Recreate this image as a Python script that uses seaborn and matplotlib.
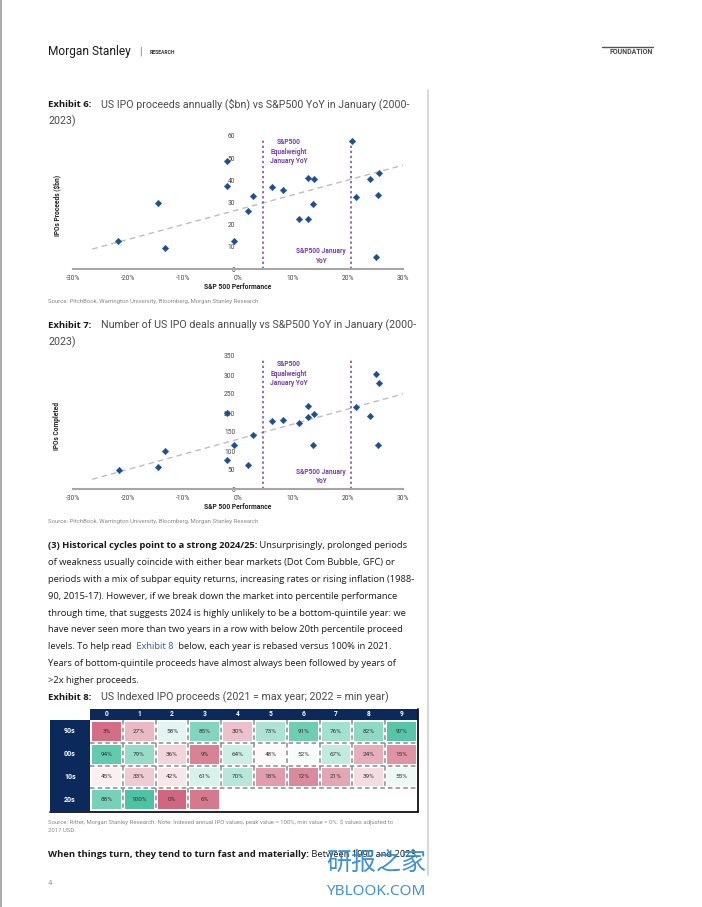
import numpy as np
import pandas as pd
import matplotlib

matplotlib.use("Agg")
import matplotlib.pyplot as plt
from matplotlib.colors import LinearSegmentedColormap
from matplotlib.patches import Rectangle
from matplotlib.lines import Line2D
import seaborn as sns

# ---- data ----
sp500_jan_ret_proceeds = [-21.8, -14.6, -13.2, -2.0, -2.0, -0.8, 1.9, 2.7, 6.1, 8.2, 11.0,
                          12.7, 12.8, 13.8, 13.6, 20.8, 21.4, 24.0, 25.6, 25.5, 25.0]
ipo_proceeds_bn = [12.6, 30.0, 9.6, 48.8, 37.4, 12.6, 26.0, 33.0, 37.0, 35.7, 22.7,
                   22.7, 41.1, 40.5, 29.4, 57.8, 32.4, 40.5, 43.5, 33.2, 5.5]

sp500_jan_ret_deals = [-21.7, -14.5, -13.2, -2.0, -2.0, -0.8, 1.9, 2.7, 6.1, 8.2, 11.0,
                       12.7, 12.8, 13.8, 13.6, 21.4, 24.0, 25.0, 25.6, 25.5]
ipos_completed = [51, 59, 99, 200, 76, 116, 63, 141, 179, 181, 175,
                  189, 218, 197, 115, 215, 191, 302, 280, 116]

trend_x = [-26.5, 30.7]
trend_proceeds = [9.0, 47.3]
trend_deals = [25.6, 253.0]

equalweight_jan_yoy = 4.5
sp500_jan_yoy = 20.6

decades = ["90s", "00s", "10s", "20s"]
year_digits = ["0", "1", "2", "3", "4", "5", "6", "7", "8", "9"]
indexed_proceeds = [
    [3, 27, 58, 85, 30, 73, 91, 76, 82, 97],
    [94, 79, 36, 9, 64, 48, 52, 67, 24, 15],
    [45, 33, 42, 61, 70, 18, 12, 21, 39, 55],
    [88, 100, 0, 6, np.nan, np.nan, np.nan, np.nan, np.nan, np.nan],
]

INK = "#1a1a1a"
LINK = "#2f5f9e"
paragraph = [
    [("(3) Historical cycles point to a strong 2024/25:", "bold", INK),
     (" Unsurprisingly, prolonged periods", "normal", INK)],
    [("of weakness usually coincide with either bear markets (Dot Com Bubble, GFC) or", "normal", INK)],
    [("periods with a mix of subpar equity returns, increasing rates or rising inflation (1988-", "normal", INK)],
    [("90, 2015-17). However, if we break down the market into percentile performance", "normal", INK)],
    [("through time, that suggests 2024 is highly unlikely to be a bottom-quintile year: we", "normal", INK)],
    [("have never seen more than two years in a row with below 20th percentile proceed", "normal", INK)],
    [("levels. To help read ", "normal", INK), (" Exhibit 8 ", "normal", LINK),
     (" below, each year is rebased versus 100% in 2021.", "normal", INK)],
    [("Years of bottom-quintile proceeds have almost always been followed by years of", "normal", INK)],
    [(">2x higher proceeds.", "normal", INK)],
]

W, H = 702, 907
NAVY = "#0b2a5b"
DOT = "#1c4f8c"
PURPLE = "#7a3ea6"
GREY = "#8a8a8a"
BODY = ["Open Sans", "DejaVu Sans"]
TITLE = ["Roboto", "DejaVu Sans"]
CHART = ["Liberation Sans Narrow", "Roboto", "DejaVu Sans"]

sns.set_theme(style="white")
plt.rcParams["font.family"] = BODY

fig = plt.figure(figsize=(W / 100, H / 100), dpi=100)
renderer = fig.canvas.get_renderer()


def fx(px):
    return px / W


def fy(py):
    return 1 - py / H


def runs_text(x_px, y_px, runs, size, family=BODY):
    x = x_px
    for txt, weight, color in runs:
        t = fig.text(fx(x), fy(y_px), txt, fontsize=size, fontweight=weight, color=color,
                     family=family, ha="left", va="baseline")
        x += t.get_window_extent(renderer).width


def exhibit_title(y_px, label, line1, line2=None):
    fig.text(fx(48), fy(y_px), label, fontsize=6.8, fontweight="bold", color=INK,
             family=BODY, va="baseline")
    fig.text(fx(101), fy(y_px), line1, fontsize=7.65, color="#4a4a4a",
             family=TITLE, va="baseline")
    if line2:
        fig.text(fx(48), fy(y_px + 17), line2, fontsize=7.65, color="#4a4a4a",
                 family=TITLE, va="baseline")


def scatter_panel(top_px, x, y, trend_y, ymax, ystep, ylabel, ann1_y, ann2_y):
    axes_h = 133
    ax = fig.add_axes([fx(73), fy(top_px + axes_h), fx(330), axes_h / H])
    ax.set_facecolor("none")
    df = pd.DataFrame({"ret": x, "val": y})
    trend = pd.DataFrame({"ret": trend_x, "val": trend_y})
    sns.lineplot(data=trend, x="ret", y="val", ax=ax, color="#bdbdbd", lw=1.0,
                 linestyle=(0, (4, 3)), zorder=1)
    for xv in (equalweight_jan_yoy, sp500_jan_yoy):
        ax.axvline(xv, ymin=0, ymax=0.97, color=PURPLE, lw=1.1, linestyle=(0, (1.5, 1.8)), zorder=1)
    sns.scatterplot(data=df, x="ret", y="val", ax=ax, marker="D", s=11, color=DOT,
                    edgecolor=DOT, linewidth=0.3, zorder=3, clip_on=False)
    ax.set_xlim(-30, 30)
    ax.set_ylim(0, ymax)
    ax.set_xticks(np.arange(-30, 31, 10))
    ax.set_xticklabels([f"{v}%" for v in range(-30, 31, 10)])
    ax.set_yticks(np.arange(0, ymax + 1, ystep))
    ax.set_xlabel("")
    ax.set_ylabel("")
    for s in ("top", "right", "left"):
        ax.spines[s].set_visible(False)
    ax.spines["left"].set_position(("data", 0))
    ax.spines["bottom"].set_color("#a6a6a6")
    ax.spines["bottom"].set_linewidth(1.5)
    ax.tick_params(axis="both", length=0, labelsize=4.8, colors="#444444")
    ax.tick_params(axis="x", pad=4)
    ax.tick_params(axis="y", pad=2)
    for lab in ax.get_xticklabels() + ax.get_yticklabels():
        lab.set_family(CHART)
    ax.text(9.2, ann1_y, "S&P500\nEqualweight\nJanuary YoY", color=PURPLE, fontsize=4.8,
            fontweight="bold", ha="center", va="center", family=CHART, linespacing=1.25)
    ax.text(15.0, ann2_y, "S&P500 January\nYoY", color=PURPLE, fontsize=4.8,
            fontweight="bold", ha="center", va="center", family=CHART, linespacing=1.25)
    fig.text(fx(238), fy(top_px + axes_h + 18), "S&P 500 Performance", fontsize=4.9,
             fontweight="bold", ha="center", va="center", family=CHART, color="#222222")
    fig.text(fx(57), fy(top_px + axes_h / 2 + 3), ylabel, fontsize=4.8, fontweight="bold",
             rotation=90, ha="center", va="center", family=CHART, color="#222222")
    return ax


# ---- header ----
fig.add_artist(Line2D([fx(1), fx(1)], [0, 1], color="#9a9a9a", lw=1.2))
fig.add_artist(Line2D([fx(428), fx(428)], [fy(90), fy(875)], color="#d9d9d9", lw=1.5))
fig.text(fx(48), fy(55), "Morgan Stanley", fontsize=8.6, color=INK, family=CHART,
         va="baseline")
fig.text(fx(139), fy(55), "|", fontsize=7, color="#777777", family=TITLE, va="baseline")
fig.text(fx(150), fy(54), "RESEARCH", fontsize=3.6, fontweight="bold", color="#333333",
         family=TITLE, va="baseline")
fig.add_artist(Line2D([fx(602), fx(653)], [fy(46.5), fy(46.5)], color="#555555", lw=1.0))
fig.text(fx(653), fy(54), "FOUNDATION", fontsize=5.0, fontweight="bold", color="#444444",
         family=TITLE, ha="right", va="baseline")

# ---- exhibit 6 ----
exhibit_title(107, "Exhibit 6:", "US IPO proceeds annually ($bn) vs S&P500 YoY in January (2000-", "2023)")
scatter_panel(136, sp500_jan_ret_proceeds, ipo_proceeds_bn, trend_proceeds, 60, 10,
              "IPOs Proceeds ($bn)", 53.0, 5.8)
fig.text(fx(48), fy(302), "Source: PitchBook, Warrington University, Bloomberg, Morgan Stanley Research",
         fontsize=4.3, color=GREY, family=TITLE, va="center")

# ---- exhibit 7 ----
exhibit_title(328, "Exhibit 7:", "Number of US IPO deals annually vs S&P500 YoY in January (2000-", "2023)")
scatter_panel(356, sp500_jan_ret_deals, ipos_completed, trend_deals, 350, 50,
              "IPOs Completed", 303, 33)
fig.text(fx(48), fy(522), "Source: PitchBook, Warrington University, Bloomberg, Morgan Stanley Research",
         fontsize=4.3, color=GREY, family=TITLE, va="center")

# ---- paragraph ----
for i, line in enumerate(paragraph):
    runs_text(48, 548 + i * 16.9, line, 6.72)

# ---- exhibit 8 ----
exhibit_title(700, "Exhibit 8:", "US Indexed IPO proceeds (2021 = max year; 2022 = min year)")

cmap = LinearSegmentedColormap.from_list("ipo", ["#d0667f", "#ffffff", "#4dc3a3"])
tbl = pd.DataFrame(indexed_proceeds, index=decades, columns=year_digits)
annot = tbl.map(lambda v: "" if np.isnan(v) else f"{v:.0f}%")
hax = fig.add_axes([fx(90), fy(811), fx(328), 91 / H])
sns.heatmap(tbl, ax=hax, cmap=cmap, vmin=0, vmax=100, cbar=False, annot=annot, fmt="",
            annot_kws={"fontsize": 4.6, "color": "#333333", "family": TITLE},
            linewidths=1.6, linecolor="white")
hax.set_xticks([])
hax.set_yticks([])
hax.set_xlabel("")
hax.set_ylabel("")
n_rows, n_cols = tbl.shape
filled = tbl.notna().sum(axis=1).to_numpy()
for r in range(1, n_rows):
    hax.plot([0, n_cols], [r, r], color="#8c8c8c", lw=1.1, linestyle=(0, (3, 2)))
for r in range(n_rows):
    for c in range(1, filled[r]):
        hax.plot([c, c], [r, r + 1], color="#8c8c8c", lw=1.1, linestyle=(0, (3, 2)))
hax.set_xlim(0, n_cols)
hax.set_ylim(n_rows, 0)
for s in hax.spines.values():
    s.set_visible(False)

# header row and decade column
fig.add_artist(Rectangle((fx(90), fy(720)), fx(328), 11 / H, color=NAVY, lw=0))
fig.add_artist(Rectangle((fx(50), fy(811)), fx(40), 91 / H, color=NAVY, lw=0))
col_w = 328 / n_cols
for c, lab in enumerate(year_digits):
    fig.text(fx(90 + col_w * (c + 0.5)), fy(714.5), lab, color="white", fontsize=4.8,
             fontweight="bold", ha="center", va="center", family=TITLE)
row_h = 91 / n_rows
for r, lab in enumerate(decades):
    fig.text(fx(70), fy(720 + row_h * (r + 0.5)), lab, color="white", fontsize=5.0,
             fontweight="bold", ha="center", va="center", family=TITLE)
fig.add_artist(Line2D([fx(418), fx(418)], [fy(709), fy(811.5)], color="#111111", lw=1.3))
fig.add_artist(Line2D([fx(50), fx(418)], [fy(811.5), fy(811.5)], color="#111111", lw=1.3))

fig.text(fx(48), fy(822), "Source: Ritter, Morgan Stanley Research. Note: Indexed annual IPO values, "
         "peak value = 100%, min value = 0%. $ values adjusted to", fontsize=4.3, color=GREY,
         family=TITLE, va="center")
fig.text(fx(48), fy(830), "2017 USD.", fontsize=4.3, color=GREY, family=TITLE, va="center")

runs_text(48, 857, [("When things turn, they tend to turn fast and materially:", "bold", INK),
                    (" Between 1990 and 2023,", "normal", INK)], 6.72)
fig.text(fx(48), fy(883), "4", fontsize=5.5, color="#999999", family=TITLE, va="center")

# watermark
fig.text(fx(326), fy(870), "研报之家", fontsize=18, color="#2a86cf", alpha=0.9,
         family=["Noto Sans CJK SC", "DejaVu Sans"], va="baseline")
fig.text(fx(326), fy(895), "YBLOOK.COM", fontsize=11, color="#2a86cf", alpha=0.9,
         family=["Noto Sans", "DejaVu Sans"], va="baseline")

fig.savefig("out.png", dpi=100)
plt.close(fig)
